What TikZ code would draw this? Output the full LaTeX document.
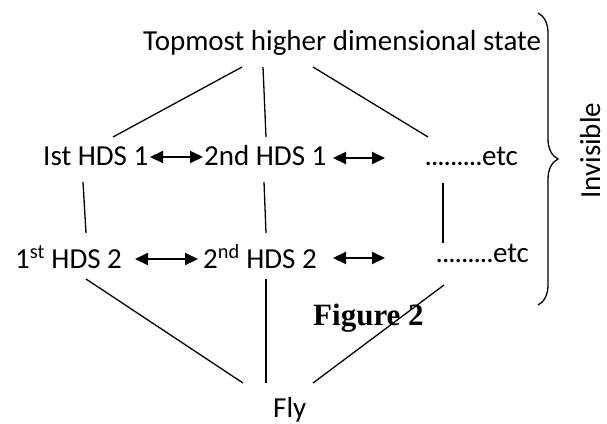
\documentclass[tikz,border=0pt]{standalone}
\usepackage{fontspec}
\setmainfont{Carlito}
\newfontfamily\figfont{Liberation Serif}
\usetikzlibrary{calc,arrows.meta,decorations.pathreplacing}
\newcommand{\etcdots}{\hbox to 57pt{\xleaders\hbox to 6.33pt{\hss.\hss}\hfill}}

\begin{document}
\begin{tikzpicture}[x=1pt,y=-1pt]
  \tikzset{every node/.style={inner sep=0pt,anchor=base west,font=\fontsize{29}{34}\selectfont},
    link/.style={line width=1.3pt},
    swap/.style={line width=2pt,{Triangle[length=13pt,width=12pt]}-{Triangle[length=13pt,width=12pt]}}}%
  \useasboundingbox (0,0) rectangle (607,423);
  \node (top) at (143,50) {Topmost higher dimensional state};
  \node (r1a) at (43,165) {Ist HDS 1};
  \node (r1b) at (204,165) {2nd HDS 1};
  \node (r1c) at (425,165) {\etcdots etc};
  \node (r2a) at (15,268) {1\textsuperscript{st} HDS 2};
  \node (r2b) at (203,268) {2\textsuperscript{nd} HDS 2};
  \node (r2c) at (436,262) {\etcdots etc};
  \node (fly) at (273,417) {Fly};
  \node (fig) at (313,325) [font=\figfont\bfseries\fontsize{31}{36}\selectfont] {Figure 2};
  \node (inv) [rotate=90] at (600,199) {Invisible};
  % top to first row
  \draw[link] ($(top.base west)+(99,17)$) -- ($(r1a.base west)+(70,-28)$);
  \draw[link] ($(top.base west)+(120,17)$) -- ($(r1b.base west)+(62,-28)$);
  \draw[link] ($(top.base west)+(170,17)$) -- ($(r1c.base west)+(3,-28)$);
  % first row to second row
  \draw[link] ($(r1a.base west)+(40,17)$) -- ($(r2a.base west)+(71,-35)$);
  \draw[link] ($(r1b.base west)+(60,17)$) -- ($(r2b.base west)+(63,-35)$);
  \draw[link] ($(r1c.base west)+(18,18)$) -- ($(r2c.base west)+(7,-19)$);
  % second row to fly
  \draw[link] ($(r2a.base west)+(71,11)$) -- ($(fly.base west)+(-30,-34)$);
  \draw[link] ($(r2b.base west)+(63,11)$) -- ($(fly.base west)+(-7,-34)$);
  \draw[link] ($(r2c.base west)+(8,23)$) -- ($(fly.base west)+(40,-34)$);
  % two-way arrows
  \draw[swap] ($(r1a.base west)+(107,-8)$) -- ($(r1b.base west)+(-1,-8)$);
  \draw[swap] ($(r1b.base west)+(129,-7)$) -- ($(r1c.base west)+(-40,-7)$);
  \draw[swap] ($(r2a.base west)+(120,-9)$) -- ($(r2b.base west)+(-5,-9)$);
  \draw[swap] ($(r2b.base west)+(130,-10)$) -- ($(r2c.base west)+(-51,-4)$);
  % brace
  \coordinate (bt) at (538,13);
  \coordinate (bb) at (538,305);
  \draw[link,decorate,decoration={brace,amplitude=20pt}] (bt) -- (bb);
\end{tikzpicture}
\end{document}
